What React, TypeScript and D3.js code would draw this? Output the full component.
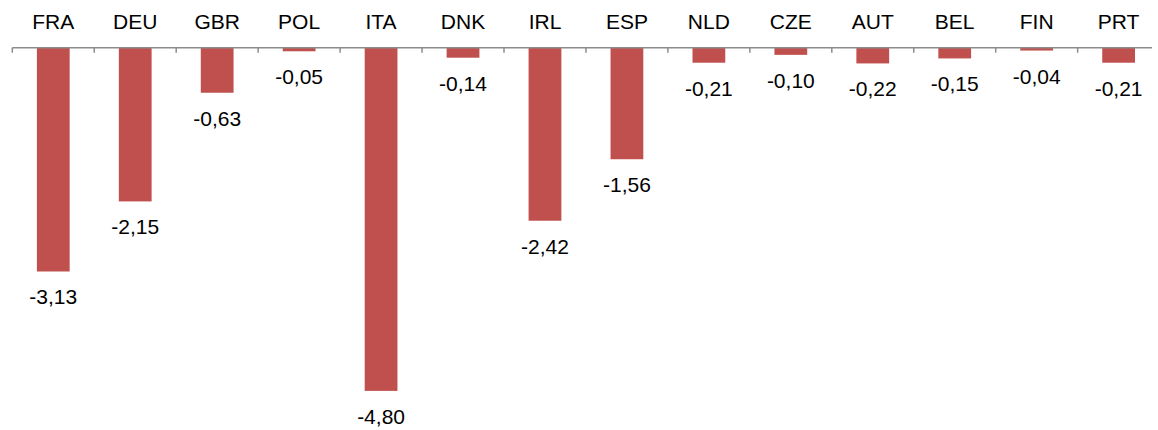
import React from "react";
import * as d3 from "d3";

const categories = ["FRA", "DEU", "GBR", "POL", "ITA", "DNK", "IRL", "ESP", "NLD", "CZE", "AUT", "BEL", "FIN", "PRT"];
const values = [-3.13, -2.15, -0.63, -0.05, -4.8, -0.14, -2.42, -1.56, -0.21, -0.1, -0.22, -0.15, -0.04, -0.21];

const W = 1158;
const H = 430;
const left = 12.3;
const band = 81.95;
const baseY = 47.7;

export default function App() {
  const x = d3
    .scaleBand<string>()
    .domain(categories)
    .range([left, left + band * categories.length])
    .paddingInner(0)
    .paddingOuter(0);
  const y = d3.scaleLinear().domain([0, -5]).range([baseY, baseY + 357.5]);
  const bw = x.bandwidth() * 0.4;
  const fmt = (v: number) => v.toFixed(2).replace(".", ",");
  const font = "'Liberation Sans', Arial, sans-serif";

  return (
    <svg
      width={W}
      height={H}
      style={{ position: "absolute", left: 0, top: 0, display: "block", background: "#fff" }}
    >
      {categories.map((c, i) => {
        const v = values[i];
        const cx = (x(c) as number) + x.bandwidth() / 2;
        return (
          <g key={c}>
            <rect x={cx - bw / 2} y={y(0)} width={bw} height={y(v) - y(0)} fill="#C0504D" />
            <text x={cx} y={y(v) + 33} textAnchor="middle" fontFamily={font} fontSize={21} fill="#000">
              {fmt(v)}
            </text>
            <text x={cx} y={28.5} textAnchor="middle" fontFamily={font} fontSize={21} fill="#000">
              {c}
            </text>
          </g>
        );
      })}
      <line x1={left} x2={1152} y1={baseY} y2={baseY} stroke="#8c8c8c" strokeWidth={1.5} />
      {d3.range(categories.length + 1).map((i) => {
        const tx = left + i * band;
        return tx <= 1152 ? (
          <line key={i} x1={tx} x2={tx} y1={baseY} y2={baseY + 5} stroke="#8c8c8c" strokeWidth={1.5} />
        ) : null;
      })}
    </svg>
  );
}
